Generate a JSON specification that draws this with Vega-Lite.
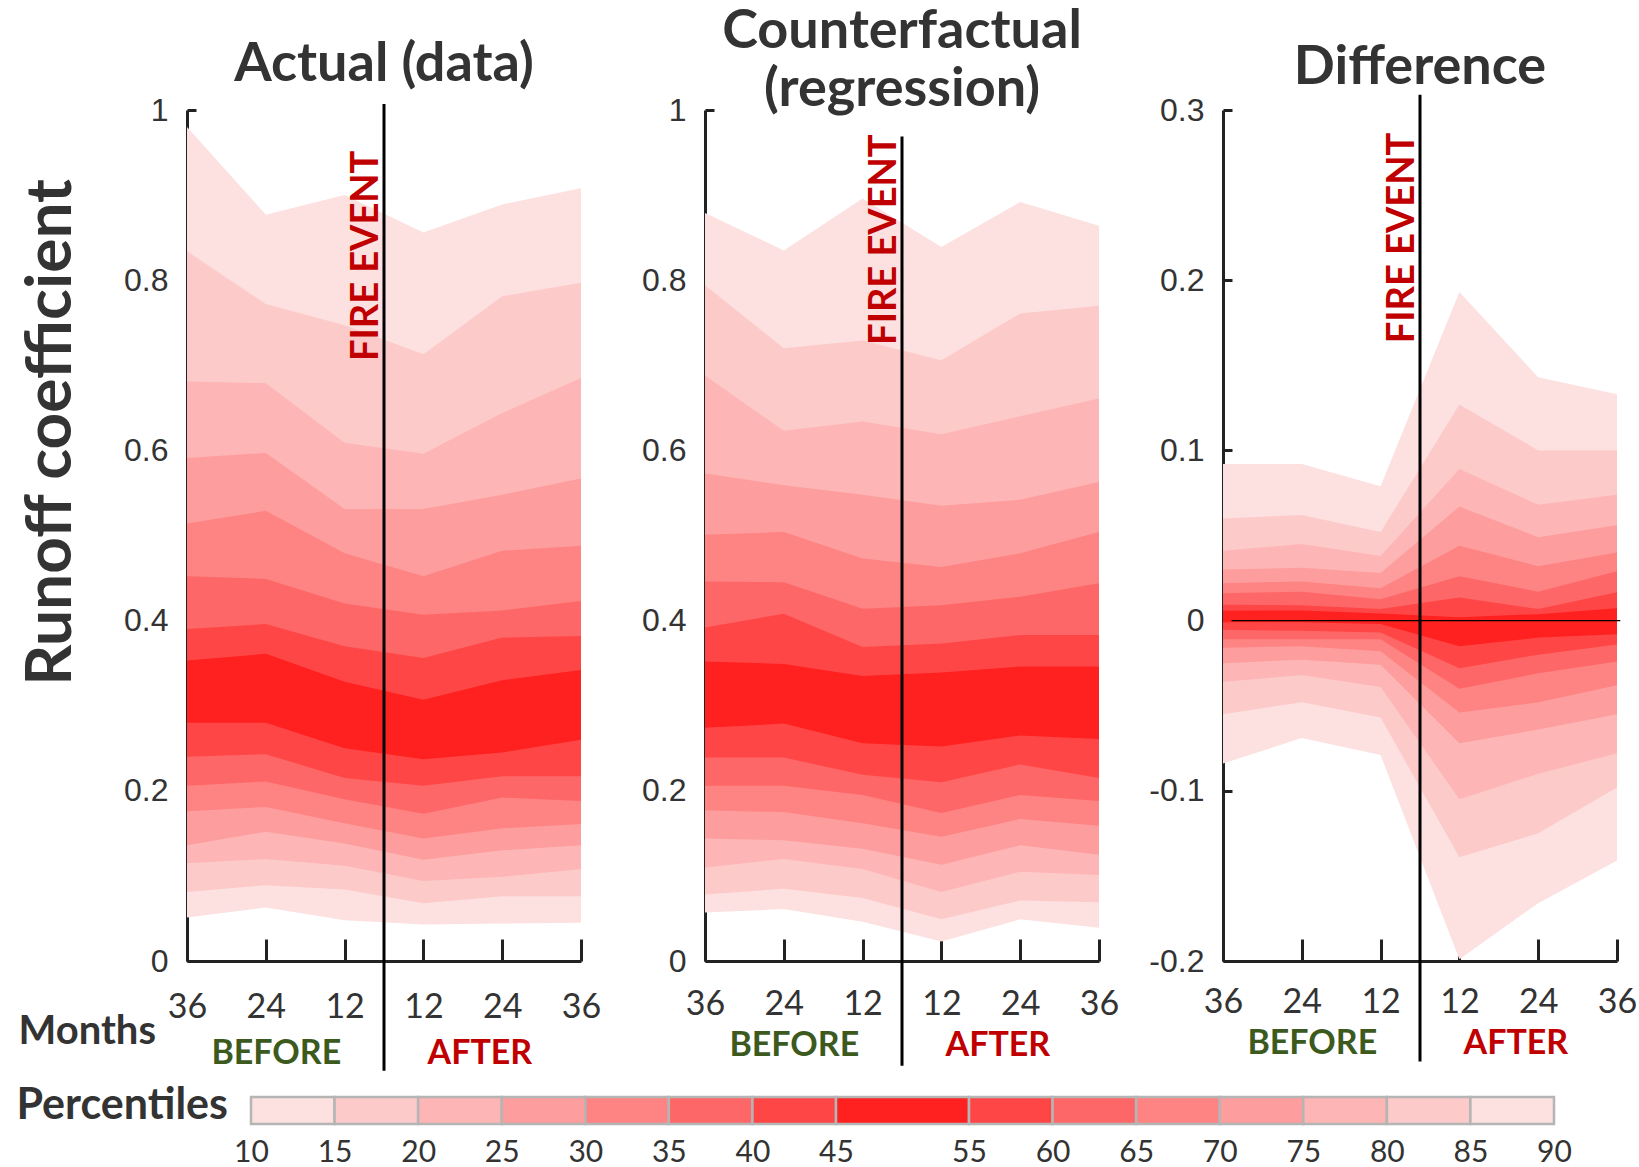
{
  "$schema": "https://vega.github.io/schema/vega-lite/v6.json",
  "background": "white",
  "autosize": {"type": "none"},
  "padding": {"left": 187, "top": 110, "right": 1452, "bottom": 1057},
  "config": {
    "view": {"stroke": null},
    "font": "Lato",
    "title": {"font": "Lato", "fontSize": 54, "fontWeight": "bold", "color": "#333333", "baseline": "alphabetic", "frame": "group", "anchor": "middle"},
    "axis": {"grid": false, "domainColor": "#222222", "domainWidth": 3, "tickColor": "#222222", "tickWidth": 3, "labelColor": "#333333", "labelFlush": false},
    "axisX": {"tickSize": -22, "labelFont": "Lato", "labelFontSize": 34, "labelPadding": 51, "labelBaseline": "top"},
    "axisY": {"tickSize": -9, "labelFont": "Liberation Sans", "labelFontSize": 32, "labelPadding": 28}
  },
  "datasets": {
    "bands": [
      {"g":"A","b":1,"m":-36,"lo":0.051,"hi":0.980},{"g":"A","b":1,"m":-24,"lo":0.063,"hi":0.877},{"g":"A","b":1,"m":-12,"lo":0.048,"hi":0.900},{"g":"A","b":1,"m":12,"lo":0.043,"hi":0.856},{"g":"A","b":1,"m":24,"lo":0.044,"hi":0.889},{"g":"A","b":1,"m":36,"lo":0.045,"hi":0.908},
      {"g":"A","b":2,"m":-36,"lo":0.081,"hi":0.834},{"g":"A","b":2,"m":-24,"lo":0.089,"hi":0.772},{"g":"A","b":2,"m":-12,"lo":0.084,"hi":0.747},{"g":"A","b":2,"m":12,"lo":0.068,"hi":0.713},{"g":"A","b":2,"m":24,"lo":0.076,"hi":0.781},{"g":"A","b":2,"m":36,"lo":0.076,"hi":0.797},
      {"g":"A","b":3,"m":-36,"lo":0.115,"hi":0.681},{"g":"A","b":3,"m":-24,"lo":0.120,"hi":0.679},{"g":"A","b":3,"m":-12,"lo":0.112,"hi":0.609},{"g":"A","b":3,"m":12,"lo":0.094,"hi":0.596},{"g":"A","b":3,"m":24,"lo":0.099,"hi":0.644},{"g":"A","b":3,"m":36,"lo":0.108,"hi":0.685},
      {"g":"A","b":4,"m":-36,"lo":0.136,"hi":0.591},{"g":"A","b":4,"m":-24,"lo":0.152,"hi":0.597},{"g":"A","b":4,"m":-12,"lo":0.138,"hi":0.531},{"g":"A","b":4,"m":12,"lo":0.119,"hi":0.531},{"g":"A","b":4,"m":24,"lo":0.130,"hi":0.548},{"g":"A","b":4,"m":36,"lo":0.136,"hi":0.567},
      {"g":"A","b":5,"m":-36,"lo":0.176,"hi":0.514},{"g":"A","b":5,"m":-24,"lo":0.181,"hi":0.529},{"g":"A","b":5,"m":-12,"lo":0.162,"hi":0.479},{"g":"A","b":5,"m":12,"lo":0.144,"hi":0.452},{"g":"A","b":5,"m":24,"lo":0.156,"hi":0.482},{"g":"A","b":5,"m":36,"lo":0.161,"hi":0.488},
      {"g":"A","b":6,"m":-36,"lo":0.206,"hi":0.452},{"g":"A","b":6,"m":-24,"lo":0.211,"hi":0.449},{"g":"A","b":6,"m":-12,"lo":0.190,"hi":0.420},{"g":"A","b":6,"m":12,"lo":0.173,"hi":0.407},{"g":"A","b":6,"m":24,"lo":0.192,"hi":0.412},{"g":"A","b":6,"m":36,"lo":0.188,"hi":0.423},
      {"g":"A","b":7,"m":-36,"lo":0.240,"hi":0.390},{"g":"A","b":7,"m":-24,"lo":0.243,"hi":0.396},{"g":"A","b":7,"m":-12,"lo":0.215,"hi":0.370},{"g":"A","b":7,"m":12,"lo":0.206,"hi":0.356},{"g":"A","b":7,"m":24,"lo":0.217,"hi":0.380},{"g":"A","b":7,"m":36,"lo":0.217,"hi":0.382},
      {"g":"A","b":8,"m":-36,"lo":0.280,"hi":0.353},{"g":"A","b":8,"m":-24,"lo":0.280,"hi":0.361},{"g":"A","b":8,"m":-12,"lo":0.250,"hi":0.328},{"g":"A","b":8,"m":12,"lo":0.237,"hi":0.307},{"g":"A","b":8,"m":24,"lo":0.245,"hi":0.330},{"g":"A","b":8,"m":36,"lo":0.260,"hi":0.342},

      {"g":"C","b":1,"m":-36,"lo":0.057,"hi":0.879},{"g":"C","b":1,"m":-24,"lo":0.061,"hi":0.835},{"g":"C","b":1,"m":-12,"lo":0.046,"hi":0.896},{"g":"C","b":1,"m":12,"lo":0.023,"hi":0.839},{"g":"C","b":1,"m":24,"lo":0.049,"hi":0.892},{"g":"C","b":1,"m":36,"lo":0.039,"hi":0.864},
      {"g":"C","b":2,"m":-36,"lo":0.078,"hi":0.794},{"g":"C","b":2,"m":-24,"lo":0.085,"hi":0.720},{"g":"C","b":2,"m":-12,"lo":0.074,"hi":0.729},{"g":"C","b":2,"m":12,"lo":0.049,"hi":0.706},{"g":"C","b":2,"m":24,"lo":0.071,"hi":0.761},{"g":"C","b":2,"m":36,"lo":0.069,"hi":0.770},
      {"g":"C","b":3,"m":-36,"lo":0.110,"hi":0.688},{"g":"C","b":3,"m":-24,"lo":0.120,"hi":0.623},{"g":"C","b":3,"m":-12,"lo":0.108,"hi":0.634},{"g":"C","b":3,"m":12,"lo":0.081,"hi":0.619},{"g":"C","b":3,"m":24,"lo":0.105,"hi":0.640},{"g":"C","b":3,"m":36,"lo":0.101,"hi":0.661},
      {"g":"C","b":4,"m":-36,"lo":0.144,"hi":0.573},{"g":"C","b":4,"m":-24,"lo":0.142,"hi":0.559},{"g":"C","b":4,"m":-12,"lo":0.132,"hi":0.548},{"g":"C","b":4,"m":12,"lo":0.113,"hi":0.535},{"g":"C","b":4,"m":24,"lo":0.136,"hi":0.542},{"g":"C","b":4,"m":36,"lo":0.125,"hi":0.563},
      {"g":"C","b":5,"m":-36,"lo":0.177,"hi":0.501},{"g":"C","b":5,"m":-24,"lo":0.175,"hi":0.504},{"g":"C","b":5,"m":-12,"lo":0.162,"hi":0.473},{"g":"C","b":5,"m":12,"lo":0.146,"hi":0.463},{"g":"C","b":5,"m":24,"lo":0.167,"hi":0.479},{"g":"C","b":5,"m":36,"lo":0.159,"hi":0.504},
      {"g":"C","b":6,"m":-36,"lo":0.206,"hi":0.446},{"g":"C","b":6,"m":-24,"lo":0.206,"hi":0.445},{"g":"C","b":6,"m":-12,"lo":0.195,"hi":0.414},{"g":"C","b":6,"m":12,"lo":0.174,"hi":0.418},{"g":"C","b":6,"m":24,"lo":0.195,"hi":0.428},{"g":"C","b":6,"m":36,"lo":0.188,"hi":0.444},
      {"g":"C","b":7,"m":-36,"lo":0.239,"hi":0.392},{"g":"C","b":7,"m":-24,"lo":0.239,"hi":0.408},{"g":"C","b":7,"m":-12,"lo":0.219,"hi":0.369},{"g":"C","b":7,"m":12,"lo":0.210,"hi":0.373},{"g":"C","b":7,"m":24,"lo":0.231,"hi":0.383},{"g":"C","b":7,"m":36,"lo":0.215,"hi":0.383},
      {"g":"C","b":8,"m":-36,"lo":0.274,"hi":0.352},{"g":"C","b":8,"m":-24,"lo":0.279,"hi":0.349},{"g":"C","b":8,"m":-12,"lo":0.256,"hi":0.335},{"g":"C","b":8,"m":12,"lo":0.252,"hi":0.339},{"g":"C","b":8,"m":24,"lo":0.265,"hi":0.346},{"g":"C","b":8,"m":36,"lo":0.261,"hi":0.346},

      {"g":"D","b":1,"m":-36,"lo":-0.084,"hi":0.092},{"g":"D","b":1,"m":-24,"lo":-0.069,"hi":0.092},{"g":"D","b":1,"m":-12,"lo":-0.079,"hi":0.079},{"g":"D","b":1,"m":12,"lo":-0.199,"hi":0.193},{"g":"D","b":1,"m":24,"lo":-0.166,"hi":0.143},{"g":"D","b":1,"m":36,"lo":-0.141,"hi":0.133},
      {"g":"D","b":2,"m":-36,"lo":-0.055,"hi":0.060},{"g":"D","b":2,"m":-24,"lo":-0.048,"hi":0.062},{"g":"D","b":2,"m":-12,"lo":-0.057,"hi":0.052},{"g":"D","b":2,"m":12,"lo":-0.139,"hi":0.127},{"g":"D","b":2,"m":24,"lo":-0.125,"hi":0.100},{"g":"D","b":2,"m":36,"lo":-0.098,"hi":0.100},
      {"g":"D","b":3,"m":-36,"lo":-0.036,"hi":0.041},{"g":"D","b":3,"m":-24,"lo":-0.032,"hi":0.045},{"g":"D","b":3,"m":-12,"lo":-0.039,"hi":0.038},{"g":"D","b":3,"m":12,"lo":-0.105,"hi":0.089},{"g":"D","b":3,"m":24,"lo":-0.090,"hi":0.068},{"g":"D","b":3,"m":36,"lo":-0.078,"hi":0.074},
      {"g":"D","b":4,"m":-36,"lo":-0.025,"hi":0.030},{"g":"D","b":4,"m":-24,"lo":-0.023,"hi":0.031},{"g":"D","b":4,"m":-12,"lo":-0.026,"hi":0.028},{"g":"D","b":4,"m":12,"lo":-0.072,"hi":0.067},{"g":"D","b":4,"m":24,"lo":-0.064,"hi":0.049},{"g":"D","b":4,"m":36,"lo":-0.055,"hi":0.056},
      {"g":"D","b":5,"m":-36,"lo":-0.016,"hi":0.022},{"g":"D","b":5,"m":-24,"lo":-0.015,"hi":0.023},{"g":"D","b":5,"m":-12,"lo":-0.018,"hi":0.019},{"g":"D","b":5,"m":12,"lo":-0.054,"hi":0.044},{"g":"D","b":5,"m":24,"lo":-0.048,"hi":0.032},{"g":"D","b":5,"m":36,"lo":-0.038,"hi":0.040},
      {"g":"D","b":6,"m":-36,"lo":-0.011,"hi":0.016},{"g":"D","b":6,"m":-24,"lo":-0.011,"hi":0.017},{"g":"D","b":6,"m":-12,"lo":-0.011,"hi":0.0126},{"g":"D","b":6,"m":12,"lo":-0.040,"hi":0.026},{"g":"D","b":6,"m":24,"lo":-0.031,"hi":0.017},{"g":"D","b":6,"m":36,"lo":-0.024,"hi":0.029},
      {"g":"D","b":7,"m":-36,"lo":-0.0054,"hi":0.0093},{"g":"D","b":7,"m":-24,"lo":-0.006,"hi":0.009},{"g":"D","b":7,"m":-12,"lo":-0.007,"hi":0.0068},{"g":"D","b":7,"m":12,"lo":-0.028,"hi":0.0136},{"g":"D","b":7,"m":24,"lo":-0.020,"hi":0.0068},{"g":"D","b":7,"m":36,"lo":-0.014,"hi":0.0166},
      {"g":"D","b":8,"m":-36,"lo":-0.001,"hi":0.0058},{"g":"D","b":8,"m":-24,"lo":-0.001,"hi":0.006},{"g":"D","b":8,"m":-12,"lo":-0.002,"hi":0.0042},{"g":"D","b":8,"m":12,"lo":-0.015,"hi":0.002},{"g":"D","b":8,"m":24,"lo":-0.010,"hi":0.0038},{"g":"D","b":8,"m":36,"lo":-0.008,"hi":0.0072}
    ],
    "ann": [
      {"g":"A","top":1.007,"bot":-0.129,"fy":0.705,"lbl":"FIRE EVENT"},
      {"g":"C","top":0.969,"bot":-0.123,"fy":0.724,"lbl":"FIRE EVENT"},
      {"g":"D","top":0.309,"bot":-0.259,"fy":0.163,"lbl":"FIRE EVENT"}
    ],
    "ba": [
      {"g":"A","m":-22.4,"y":-0.109,"t":"BEFORE"},{"g":"A","m":20.6,"y":-0.109,"t":"AFTER"},
      {"g":"C","m":-22.4,"y":-0.0995,"t":"BEFORE"},{"g":"C","m":20.6,"y":-0.0995,"t":"AFTER"},
      {"g":"D","m":-22.4,"y":-0.2488,"t":"BEFORE"},{"g":"D","m":20.6,"y":-0.2488,"t":"AFTER"}
    ],
    "zero": [{"a":-34.7,"b":36.5,"v":0}],
    "leg": [
      {"lo":10,"hi":15,"b":1},{"lo":15,"hi":20,"b":2},{"lo":20,"hi":25,"b":3},{"lo":25,"hi":30,"b":4},{"lo":30,"hi":35,"b":5},{"lo":35,"hi":40,"b":6},{"lo":40,"hi":45,"b":7},{"lo":45,"hi":55,"b":8},
      {"lo":55,"hi":60,"b":7},{"lo":60,"hi":65,"b":6},{"lo":65,"hi":70,"b":5},{"lo":70,"hi":75,"b":4},{"lo":75,"hi":80,"b":3},{"lo":80,"hi":85,"b":2},{"lo":85,"hi":90,"b":1}
    ]
  },
  "concat": [
    {
      "width": 394, "height": 851,
      "title": {"text": "Actual (data)", "offset": 2.5},
      "layer": [
        {
          "data": {"name": "bands"},
          "transform": [{"filter": "datum.g == 'A'"}],
          "mark": {"type": "area"},
          "encoding": {
            "x": {"field": "m", "type": "quantitative", "scale": {"domain": [-36, -12, 12, 36], "range": [0, 157.6, 236.4, 394], "nice": false, "zero": false},
                  "axis": {"values": [-36, -24, -12, 12, 24, 36], "labelExpr": "abs(datum.value)", "title": "Months",
                           "titleX": -169, "titleY": 82, "titleAlign": "left", "titleBaseline": "alphabetic", "titleAngle": 0,
                           "titleFont": "Lato", "titleFontSize": 40, "titleFontWeight": "bold", "titleColor": "#333333"}},
            "y": {"field": "lo", "type": "quantitative", "scale": {"domain": [0, 1], "nice": false, "zero": false},
                  "axis": {"values": [0, 0.2, 0.4, 0.6, 0.8, 1], "labelExpr": "replace(format(datum.value, '.1~f'), '\u2212', '-')",
                           "title": "Runoff coefficient", "titleX": -117, "titleY": 322, "titleAngle": 270, "titleAlign": "center", "titleBaseline": "alphabetic",
                           "titleFont": "Lato", "titleFontSize": 64, "titleFontWeight": "bold", "titleColor": "#333333"}},
            "y2": {"field": "hi"},
            "color": {"field": "b", "type": "nominal", "scale": {"domain": [1,2,3,4,5,6,7,8], "range": ["#fde0e0","#fdcaca","#fdb5b5","#fd9d9d","#fe8383","#fe6767","#ff4646","#ff2020"]}, "legend": null}
          }
        },
        {
          "data": {"name": "ann"},
          "transform": [{"filter": "datum.g == 'A'"}],
          "mark": {"type": "rule", "color": "#000000", "strokeWidth": 3},
          "encoding": {"x": {"datum": 0, "type": "quantitative"}, "y": {"field": "top", "type": "quantitative"}, "y2": {"field": "bot"}}
        },
        {
          "data": {"name": "ann"},
          "transform": [{"filter": "datum.g == 'A'"}],
          "mark": {"type": "text", "angle": 270, "align": "left", "baseline": "alphabetic", "dy": -6, "font": "Lato", "fontWeight": "bold", "fontSize": 38, "color": "#c00000"},
          "encoding": {"x": {"datum": 0, "type": "quantitative"}, "y": {"field": "fy", "type": "quantitative"}, "text": {"field": "lbl"}}
        },
        {
          "data": {"name": "ba"},
          "transform": [{"filter": "datum.g == 'A'"}],
          "mark": {"type": "text", "align": "center", "baseline": "middle", "font": "Lato", "fontWeight": "bold", "fontSize": 34},
          "encoding": {"x": {"field": "m", "type": "quantitative"}, "y": {"field": "y", "type": "quantitative"}, "text": {"field": "t"},
                       "color": {"condition": {"test": "datum.t == 'BEFORE'", "value": "#3d5a1e"}, "value": "#c00000"}}
        }
      ]
    },
    {
      "width": 394, "height": 851,
      "title": {"text": ["Counterfactual", "(regression)"], "offset": -22.5, "lineHeight": 57.5},
      "layer": [
        {
          "data": {"name": "bands"},
          "transform": [{"filter": "datum.g == 'C'"}],
          "mark": {"type": "area"},
          "encoding": {
            "x": {"field": "m", "type": "quantitative", "scale": {"domain": [-36, -12, 12, 36], "range": [0, 157.6, 236.4, 394], "nice": false, "zero": false},
                  "axis": {"values": [-36, -24, -12, 12, 24, 36], "labelExpr": "abs(datum.value)", "title": null, "labelPadding": 48}},
            "y": {"field": "lo", "type": "quantitative", "scale": {"domain": [0, 1], "nice": false, "zero": false},
                  "axis": {"values": [0, 0.2, 0.4, 0.6, 0.8, 1], "labelExpr": "replace(format(datum.value, '.1~f'), '\u2212', '-')", "title": null}},
            "y2": {"field": "hi"},
            "color": {"field": "b", "type": "nominal", "scale": {"domain": [1,2,3,4,5,6,7,8], "range": ["#fde0e0","#fdcaca","#fdb5b5","#fd9d9d","#fe8383","#fe6767","#ff4646","#ff2020"]}, "legend": null}
          }
        },
        {
          "data": {"name": "ann"},
          "transform": [{"filter": "datum.g == 'C'"}],
          "mark": {"type": "rule", "color": "#000000", "strokeWidth": 3},
          "encoding": {"x": {"datum": 0, "type": "quantitative"}, "y": {"field": "top", "type": "quantitative"}, "y2": {"field": "bot"}}
        },
        {
          "data": {"name": "ann"},
          "transform": [{"filter": "datum.g == 'C'"}],
          "mark": {"type": "text", "angle": 270, "align": "left", "baseline": "alphabetic", "dy": -6, "font": "Lato", "fontWeight": "bold", "fontSize": 38, "color": "#c00000"},
          "encoding": {"x": {"datum": 0, "type": "quantitative"}, "y": {"field": "fy", "type": "quantitative"}, "text": {"field": "lbl"}}
        },
        {
          "data": {"name": "ba"},
          "transform": [{"filter": "datum.g == 'C'"}],
          "mark": {"type": "text", "align": "center", "baseline": "middle", "font": "Lato", "fontWeight": "bold", "fontSize": 34},
          "encoding": {"x": {"field": "m", "type": "quantitative"}, "y": {"field": "y", "type": "quantitative"}, "text": {"field": "t"},
                       "color": {"condition": {"test": "datum.t == 'BEFORE'", "value": "#3d5a1e"}, "value": "#c00000"}}
        }
      ]
    },
    {
      "width": 394, "height": 851,
      "title": {"text": "Difference", "offset": -1.6},
      "layer": [
        {
          "data": {"name": "bands"},
          "transform": [{"filter": "datum.g == 'D'"}],
          "mark": {"type": "area"},
          "encoding": {
            "x": {"field": "m", "type": "quantitative", "scale": {"domain": [-36, -12, 12, 36], "range": [0, 157.6, 236.4, 394], "nice": false, "zero": false},
                  "axis": {"values": [-36, -24, -12, 12, 24, 36], "labelExpr": "abs(datum.value)", "title": null, "labelPadding": 46}},
            "y": {"field": "lo", "type": "quantitative", "scale": {"domain": [-0.2, 0.3], "nice": false, "zero": false},
                  "axis": {"values": [-0.2, -0.1, 0, 0.1, 0.2, 0.3], "labelExpr": "replace(format(datum.value, '.1~f'), '\u2212', '-')", "title": null}},
            "y2": {"field": "hi"},
            "color": {"field": "b", "type": "nominal", "scale": {"domain": [1,2,3,4,5,6,7,8], "range": ["#fde0e0","#fdcaca","#fdb5b5","#fd9d9d","#fe8383","#fe6767","#ff4646","#ff2020"]}, "legend": null}
          }
        },
        {
          "data": {"name": "zero"},
          "mark": {"type": "rule", "color": "#000000", "strokeWidth": 1.2},
          "encoding": {"x": {"field": "a", "type": "quantitative"}, "x2": {"field": "b"}, "y": {"field": "v", "type": "quantitative"}}
        },
        {
          "data": {"name": "ann"},
          "transform": [{"filter": "datum.g == 'D'"}],
          "mark": {"type": "rule", "color": "#000000", "strokeWidth": 3},
          "encoding": {"x": {"datum": 0, "type": "quantitative"}, "y": {"field": "top", "type": "quantitative"}, "y2": {"field": "bot"}}
        },
        {
          "data": {"name": "ann"},
          "transform": [{"filter": "datum.g == 'D'"}],
          "mark": {"type": "text", "angle": 270, "align": "left", "baseline": "alphabetic", "dy": -6, "font": "Lato", "fontWeight": "bold", "fontSize": 38, "color": "#c00000"},
          "encoding": {"x": {"datum": 0, "type": "quantitative"}, "y": {"field": "fy", "type": "quantitative"}, "text": {"field": "lbl"}}
        },
        {
          "data": {"name": "ba"},
          "transform": [{"filter": "datum.g == 'D'"}],
          "mark": {"type": "text", "align": "center", "baseline": "middle", "font": "Lato", "fontWeight": "bold", "fontSize": 34},
          "encoding": {"x": {"field": "m", "type": "quantitative"}, "y": {"field": "y", "type": "quantitative"}, "text": {"field": "t"},
                       "color": {"condition": {"test": "datum.t == 'BEFORE'", "value": "#3d5a1e"}, "value": "#c00000"}}
        }
      ]
    },
    {
      "width": 394, "height": 27,
      "data": {"name": "leg"},
      "mark": {"type": "rect", "stroke": "#b5b5b5", "strokeWidth": 2.5},
      "encoding": {
        "x": {"field": "lo", "type": "quantitative", "scale": {"domain": [0, 10, 45, 55, 90], "range": [0, 64, 649, 782, 1367], "nice": false, "zero": false},
              "axis": {"values": [10,15,20,25,30,35,40,45,55,60,65,70,75,80,85,90], "domain": false, "ticks": false, "labelPadding": 13, "labelFontSize": 30, "labelFont": "Lato", "labelFlush": false,
                       "title": "Percentiles", "titleX": -171, "titleY": -6, "titleAlign": "left", "titleBaseline": "alphabetic", "titleAngle": 0,
                       "titleFont": "Lato", "titleFontSize": 43, "titleFontWeight": "bold", "titleColor": "#333333"}},
        "x2": {"field": "hi"},
        "color": {"field": "b", "type": "nominal", "scale": {"domain": [1,2,3,4,5,6,7,8], "range": ["#fde0e0","#fdcaca","#fdb5b5","#fd9d9d","#fe8383","#fe6767","#ff4646","#ff2020"]}, "legend": null}
      }
    }
  ],
  "columns": 3,
  "spacing": {"row": 136, "column": 124},
  "bounds": "flush"
}
